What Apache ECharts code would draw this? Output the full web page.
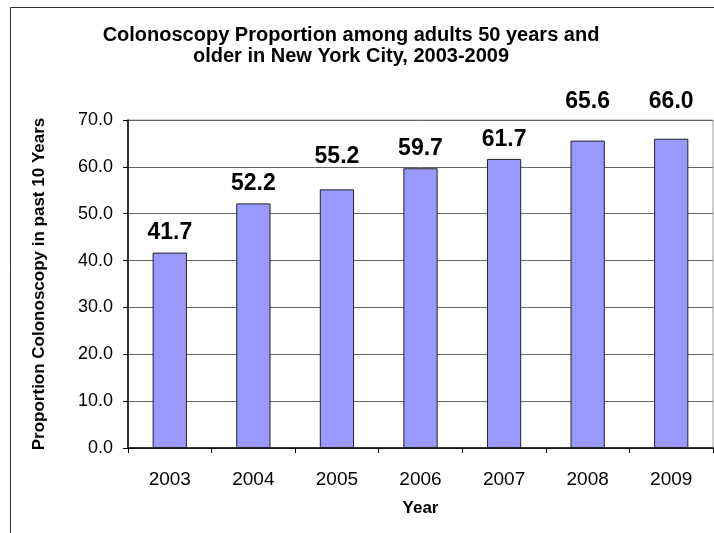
<!DOCTYPE html>
<html>
<head>
<meta charset="utf-8">
<script src="https://cdn.jsdelivr.net/npm/echarts@6/dist/echarts.min.js"></script>
<style>
html,body{margin:0;padding:0;background:#fff;}
#chart{width:714px;height:533px;}
</style>
</head>
<body>
<div id="chart"></div>
<script>
const titleLines = ['Colonoscopy Proportion among adults 50 years and', 'older in New York City, 2003-2009'];
const years = ['2003', '2004', '2005', '2006', '2007', '2008', '2009'];
const proportions = [41.7, 52.2, 55.2, 59.7, 61.7, 65.6, 66.0];
const yAxisTitle = 'Proportion Colonoscopy in past 10 Years';
const xAxisTitle = 'Year';

// label lift above each bar (style only)
const labelLift = [8, 8, 21, 8, 8, 27, 26];

const FONT = '"Liberation Sans", Arial, Helvetica, sans-serif';
const chart = echarts.init(document.getElementById('chart'), null, {renderer: 'canvas'});

chart.setOption({
  animation: false,
  backgroundColor: '#ffffff',
  title: {
    text: titleLines.join('\n'),
    left: 346,
    textAlign: 'center',
    top: 20,
    textStyle: {fontFamily: FONT, fontSize: 20, fontWeight: 'bold', color: '#000', lineHeight: 21}
  },
  graphic: [{
    type: 'rect',
    shape: {x: 10.5, y: 7.5, width: 900, height: 700},
    style: {fill: 'none', stroke: '#333', lineWidth: 1},
    silent: true, z: 0
  }],
  grid: {
    left: 128, top: 120, right: 1, bottom: 85,
    show: true, borderColor: '#a0a0a0', borderWidth: 1, backgroundColor: 'transparent'
  },
  xAxis: {
    type: 'category',
    data: years,
    name: xAxisTitle,
    nameLocation: 'middle',
    nameGap: 52,
    nameTextStyle: {fontFamily: FONT, fontSize: 17, fontWeight: 'bold', color: '#000'},
    axisLine: {lineStyle: {color: '#000', width: 1.5}},
    axisTick: {show: true, alignWithLabel: false, length: 5, lineStyle: {color: '#000'}},
    axisLabel: {fontFamily: FONT, fontSize: 19, color: '#000', margin: 22},
    splitLine: {show: false}
  },
  yAxis: {
    type: 'value',
    min: 0, max: 70, interval: 10,
    name: yAxisTitle,
    nameLocation: 'middle',
    nameGap: 80,
    nameRotate: 90,
    nameTextStyle: {fontFamily: FONT, fontSize: 17, fontWeight: 'bold', color: '#000'},
    axisLine: {show: true, lineStyle: {color: '#000', width: 1.5}},
    axisTick: {show: true, length: 5, lineStyle: {color: '#000'}},
    axisLabel: {fontFamily: FONT, fontSize: 18, color: '#000', margin: 15,
      formatter: v => v.toFixed(1)},
    splitLine: {show: true, lineStyle: {color: '#666', width: 1}}
  },
  series: [{
    type: 'bar',
    data: proportions.map((v, i) => ({
      value: v,
      label: {distance: labelLift[i]}
    })),
    barWidth: '41%',
    itemStyle: {color: '#9999ff', borderColor: '#222', borderWidth: 1},
    label: {
      show: true, position: 'top',
      fontFamily: FONT, fontSize: 23, fontWeight: 'bold', color: '#000',
      formatter: p => Number(p.value).toFixed(1)
    }
  }]
});
</script>
</body>
</html>
